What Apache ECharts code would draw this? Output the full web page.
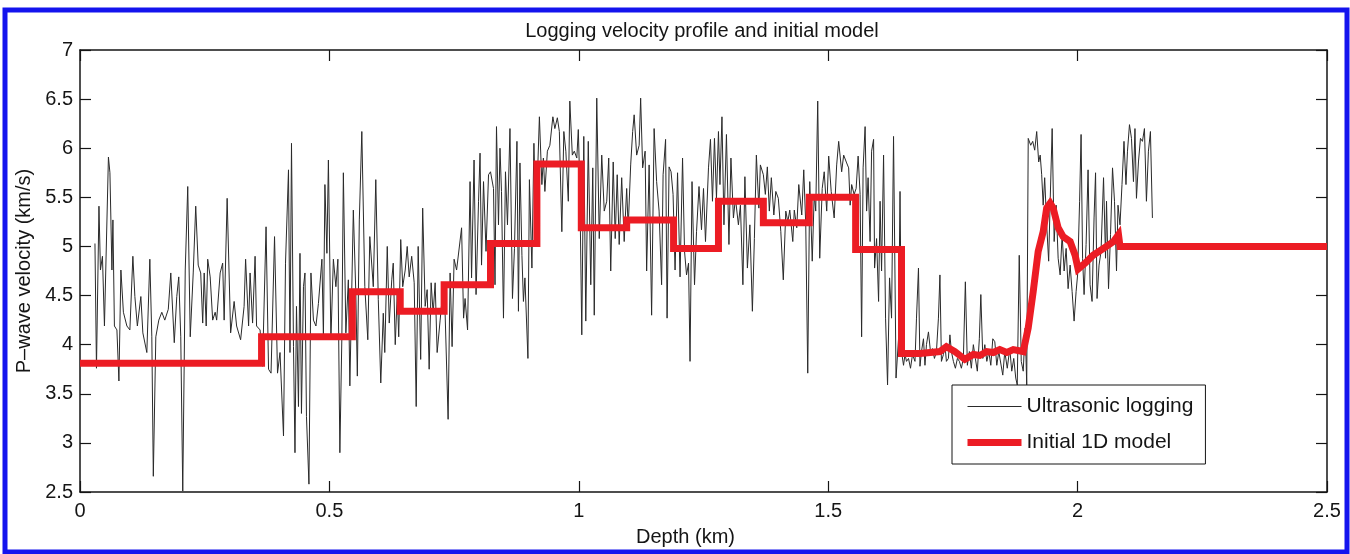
<!DOCTYPE html>
<html>
<head>
<meta charset="utf-8">
<script src="https://cdn.jsdelivr.net/npm/echarts@6/dist/echarts.min.js"></script>
<style>
  html, body { margin: 0; padding: 0; background: #fff; }
  #chart { width: 1350px; height: 554px; }
</style>
</head>
<body>
<div id="chart"></div>
<script>
// Axis ranges and tick spacing
const depthRange = [0, 2.5];
const depthStep = 0.5;
const velocityRange = [2.5, 7];
const velocityStep = 0.5;

// Ultrasonic logging samples, [depth (km), P-wave velocity (km/s)]
const logShallow = [
  [0.030,5.03],[0.033,3.76],[0.038,5.41],[0.041,4.76],[0.045,4.90],[0.049,4.19],[0.052,4.17],[0.057,5.91],
  [0.060,5.75],[0.064,4.76],[0.066,5.27],[0.069,4.19],[0.074,4.15],[0.078,3.63],[0.082,4.76],[0.087,4.33],
  [0.094,4.19],[0.100,4.15],[0.106,4.90],[0.110,4.49],[0.115,4.19],[0.122,4.49],[0.126,4.12],[0.134,3.92],
  [0.140,4.87],[0.144,4.08],[0.147,2.66],[0.152,4.08],[0.158,4.25],[0.164,4.33],[0.170,4.25],[0.177,4.36],
  [0.182,4.73],[0.189,4.02],[0.194,4.49],[0.198,4.69],[0.202,4.08],[0.206,2.51],[0.211,4.76],[0.216,5.61],
  [0.221,4.08],[0.227,4.73],[0.232,5.41],[0.237,4.81],[0.242,4.73],[0.246,4.22],[0.249,4.73],[0.253,4.19],
  [0.256,4.87],[0.261,4.69],[0.266,4.25],[0.271,4.33],[0.274,4.25],[0.281,4.73],[0.286,4.83],[0.289,4.25],
  [0.295,5.49],[0.302,4.12],[0.309,4.44],[0.314,4.19],[0.322,4.05],[0.329,4.39],[0.332,4.87],[0.338,4.19],
  [0.341,4.73],[0.346,4.22],[0.351,4.90],[0.354,4.19],[0.361,4.15],[0.366,3.78],[0.373,5.20],[0.378,3.75],
  [0.383,3.71],[0.390,5.10]
];
const logUpper = [
  [0.396,3.71],[0.401,3.92],[0.408,3.07],[0.412,4.83],[0.418,5.78],[0.421,3.92],[0.424,6.05],[0.428,3.98],
  [0.431,2.90],[0.434,4.39],[0.438,3.37],[0.441,4.93],[0.444,3.30],[0.448,4.59],[0.451,4.73],[0.454,3.27],
  [0.459,2.58],[0.463,4.73],[0.468,4.25],[0.473,4.19],[0.478,4.42],[0.485,4.87],[0.488,4.08],[0.491,5.63],
  [0.495,4.93],[0.498,5.88],[0.503,4.05],[0.508,4.87],[0.513,4.59],[0.517,4.87],[0.521,2.90],[0.525,4.08],
  [0.528,5.75],[0.533,4.12],[0.538,4.66],[0.541,3.58],[0.548,5.37],[0.553,4.52],[0.556,3.68],[0.560,5.27],
  [0.565,6.17],[0.571,4.59],[0.577,4.05],[0.581,5.10],[0.588,4.59],[0.593,5.68],[0.598,4.46],[0.603,3.61],
  [0.608,4.32],[0.611,3.92],[0.616,5.00],[0.620,4.22],[0.625,4.66],[0.628,4.83],[0.632,4.00],[0.636,4.52],
  [0.639,4.08],[0.643,5.07],[0.647,4.59],[0.652,4.76],[0.656,5.00],[0.660,4.69],[0.665,4.90],[0.670,4.63],
  [0.674,3.37],[0.678,5.00],[0.683,3.85],[0.687,5.39],[0.692,4.39],[0.696,4.56],[0.700,3.75],[0.704,4.63],
  [0.708,4.32],[0.712,4.63],[0.716,3.92],[0.722,4.25],[0.727,4.52],[0.732,4.32],[0.738,3.24],[0.742,4.73],
  [0.746,3.98],[0.750,4.87],[0.755,4.76]
];
const logMiddle = [
  [0.765,5.19],[0.769,4.27],[0.772,4.47],[0.777,4.15],[0.782,5.66],[0.785,4.68],[0.790,5.88],[0.794,4.51],
  [0.799,5.46],[0.802,5.95],[0.805,4.81],[0.809,5.66],[0.814,4.95],[0.819,5.73],[0.823,5.76],[0.829,5.59],
  [0.832,4.61],[0.835,6.22],[0.839,5.22],[0.842,6.00],[0.845,5.56],[0.849,4.27],[0.853,5.76],[0.857,5.22],
  [0.862,6.20],[0.867,4.47],[0.871,4.98],[0.876,6.07],[0.879,4.34],[0.882,5.85],[0.886,4.91],[0.889,4.44],
  [0.892,4.68],[0.898,3.86],[0.901,5.68],[0.906,4.78],[0.910,6.05],[0.914,5.22],[0.921,6.32],[0.926,5.63],
  [0.929,5.90],[0.932,5.56],[0.937,5.97],[0.942,6.03],[0.948,6.32],[0.952,6.20],[0.957,6.31],[0.961,6.17],
  [0.966,5.15],[0.970,6.17],[0.974,5.97],[0.979,5.46],[0.982,6.48],[0.987,5.93],[0.991,5.97],[0.996,5.90],
  [0.999,6.19],[1.002,5.63],[1.006,4.10],[1.010,6.12],[1.014,4.24],[1.019,6.07],[1.024,4.61],[1.028,5.80],
  [1.031,4.30],[1.036,6.51],[1.041,5.08],[1.046,5.93],[1.051,5.36],[1.056,5.46],[1.060,5.90],[1.064,4.75],
  [1.069,5.86],[1.073,5.08],[1.077,5.73],[1.081,5.02],[1.086,5.70],[1.091,5.05],[1.096,5.59],[1.099,5.19],
  [1.104,5.83],[1.108,6.17],[1.111,6.34],[1.116,5.93],[1.121,6.03],[1.124,6.51],[1.128,5.80],[1.133,5.97],
  [1.136,4.75],[1.141,5.83],[1.146,4.30],[1.151,6.20],[1.156,5.66],[1.161,5.36]
];
const logLower = [
  [1.166,4.61],[1.169,5.73],[1.174,6.09],[1.177,4.27],[1.181,5.81],[1.185,5.76],[1.189,5.53],[1.193,4.76],
  [1.198,5.75],[1.203,4.69],[1.208,5.90],[1.212,4.95],[1.216,4.71],[1.220,4.83],[1.223,3.83],[1.227,5.66],
  [1.232,4.61],[1.236,5.15],[1.241,5.61],[1.246,5.17],[1.250,5.59],[1.254,5.05],[1.260,5.80],[1.264,6.09],
  [1.268,5.46],[1.272,6.10],[1.276,5.49],[1.280,6.17],[1.283,5.63],[1.287,6.32],[1.291,5.22],[1.296,6.14],
  [1.301,5.02],[1.305,5.90],[1.310,5.29],[1.314,5.49],[1.320,5.22],[1.324,5.42],[1.329,4.61],[1.333,5.71],
  [1.338,4.78],[1.343,5.22],[1.348,4.34],[1.352,5.08],[1.356,5.93],[1.361,5.39],[1.364,5.83],[1.370,5.73],
  [1.374,5.53],[1.378,5.81],[1.382,5.36],[1.386,5.70],[1.391,5.32],[1.395,5.56],[1.400,5.49],[1.405,5.15],
  [1.410,4.66],[1.415,5.36],[1.419,5.25],[1.423,5.37],[1.429,5.05],[1.432,5.37],[1.437,5.19],[1.441,5.63],
  [1.447,5.32],[1.451,5.78],[1.455,5.22],[1.459,3.71],[1.463,5.66],[1.468,4.85],[1.472,5.53],[1.475,5.36],
  [1.479,6.48],[1.483,4.88],[1.488,5.59],[1.492,5.76],[1.497,5.36],[1.501,5.92],[1.506,5.56],[1.512,5.29],
  [1.517,5.83],[1.521,6.07],[1.527,5.76],[1.531,5.93],[1.537,5.85],[1.541,5.80]
];
const logLowVelocityZone = [
  [1.544,5.42],[1.547,5.63],[1.552,5.53],[1.556,5.59],[1.560,5.92],[1.564,5.53],[1.567,4.08],[1.570,5.80],
  [1.574,6.22],[1.577,5.36],[1.580,5.70],[1.584,5.05],[1.587,5.97],[1.591,6.09],[1.593,4.78],[1.597,5.08],
  [1.601,4.44],[1.604,5.46],[1.607,4.75],[1.611,5.93],[1.615,4.27],[1.619,3.59],[1.623,4.68],[1.627,4.27],
  [1.631,6.12],[1.636,3.66],[1.641,4.06],[1.644,5.56],[1.647,3.93],[1.651,3.79],[1.654,3.90],[1.657,3.83],
  [1.661,3.86],[1.665,3.76],[1.669,3.90],[1.674,3.83],[1.677,4.27],[1.681,4.78],[1.684,3.78],[1.687,3.93],
  [1.691,4.06],[1.694,3.79],[1.697,4.00],[1.701,4.13],[1.705,3.93],[1.709,3.96],[1.713,3.86],[1.717,3.93],
  [1.721,4.27],[1.724,4.71],[1.727,3.83],[1.731,3.90],[1.734,4.00],[1.737,3.83],[1.741,3.86],[1.744,4.10],
  [1.747,3.93],[1.751,3.83],[1.755,3.76],[1.759,3.86],[1.763,3.83],[1.767,3.76],[1.771,3.86],[1.775,4.64],
  [1.779,3.79],[1.783,3.93],[1.787,3.76],[1.791,4.00],[1.795,3.86],[1.799,3.73],[1.803,4.06],[1.806,4.51],
  [1.810,3.86],[1.814,4.00],[1.818,3.83],[1.822,3.93],[1.826,3.79],[1.830,4.06],[1.834,4.03],[1.838,3.79],
  [1.842,3.93]
];
const logBottom = [
  [1.850,3.69],[1.854,3.93],[1.859,3.76],[1.864,3.96],[1.868,3.73],[1.872,3.86],[1.876,3.66],[1.879,3.59],
  [1.883,4.91],[1.887,3.83],[1.891,3.73],[1.895,4.17],[1.898,3.59],[1.901,6.10],[1.906,6.03],[1.910,6.07],
  [1.914,5.98],[1.918,6.17],[1.922,5.86],[1.925,5.93],[1.928,5.73],[1.931,5.42],[1.934,5.70],[1.938,5.22],
  [1.942,4.85],[1.945,5.46],[1.949,6.20],[1.953,5.05],[1.957,5.42],[1.961,4.88],[1.965,4.71],[1.969,5.12],
  [1.973,4.75],[1.977,4.98],[1.981,4.57],[1.985,4.81],[1.989,4.54],[1.993,4.24],[1.997,4.54],[2.000,4.71],
  [2.004,5.46],[2.007,6.14],[2.010,4.88],[2.013,4.51],[2.017,5.02],[2.021,5.78],[2.025,4.61],[2.029,4.44],
  [2.033,5.29],[2.036,5.75],[2.039,4.47],[2.043,4.81],[2.047,4.95],[2.052,5.70],[2.056,4.88],[2.058,5.46],
  [2.062,4.57],[2.066,5.12],[2.070,5.80],[2.074,5.46],[2.078,4.75],[2.081,5.42],[2.085,5.22],[2.089,5.63],
  [2.093,6.07],[2.097,5.63],[2.100,5.97],[2.104,6.24],[2.108,6.10],[2.112,5.66],[2.115,6.20],[2.118,5.49],
  [2.122,5.86],[2.126,6.10],[2.130,6.07],[2.134,6.20],[2.138,5.46],[2.142,5.97],[2.146,6.17],[2.150,5.29]
];

// Initial 1D model: blocky layers, then a smoothed transition below 1.65 km
const modelLayers = [
  [0,3.81],[0.364,3.81],[0.364,4.08],[0.546,4.08],[0.546,4.54],[0.642,4.54],[0.642,4.34],[0.730,4.34],
  [0.730,4.61],[0.823,4.61],[0.823,5.03],[0.916,5.03],[0.916,5.84],[1.005,5.84],[1.005,5.19],[1.096,5.19],
  [1.096,5.27],[1.190,5.27],[1.190,4.98],[1.280,4.98],[1.280,5.46],[1.370,5.46],[1.370,5.24],[1.462,5.24],
  [1.462,5.50],[1.555,5.50],[1.555,4.97],[1.647,4.97],[1.647,3.91]
];
const modelTransition = [
  [1.684,3.91],[1.724,3.93],[1.737,3.98],[1.754,3.93],[1.774,3.85],[1.791,3.90],[1.804,3.89],[1.818,3.93],
  [1.831,3.92],[1.844,3.95],[1.858,3.92],[1.871,3.95],[1.891,3.93],[1.901,4.17],[1.911,4.54],[1.921,4.95],
  [1.931,5.15],[1.938,5.39],[1.945,5.44],[1.951,5.39],[1.961,5.19],[1.971,5.10],[1.985,5.05],[1.995,4.91],
  [2.001,4.77],[2.015,4.83],[2.031,4.91],[2.052,4.98],[2.072,5.05],[2.082,5.12],[2.085,5.00],[2.5,5.00]
];

const logSamples = [].concat(logShallow, logUpper, logMiddle, logLower, logLowVelocityZone, logBottom);
const initialModel = [].concat(modelLayers, modelTransition);

const FONT = '"Liberation Sans", Arial, Helvetica, sans-serif';
const INK = '#151515';

function frameAxis(extra) {
  return Object.assign({
    type: 'value',
    axisLine: { show: true, onZero: false, lineStyle: { color: INK, width: 1.5 } },
    axisTick: { show: true, inside: true, length: 11, lineStyle: { color: INK, width: 1.2 } },
    splitLine: { show: false },
    axisLabel: { show: false }
  }, extra);
}

const chart = echarts.init(document.getElementById('chart'), null, { renderer: 'canvas' });

chart.setOption({
  animation: false,
  backgroundColor: '#ffffff',
  title: {
    text: 'Logging velocity profile and initial model',
    left: 697,
    top: 16,
    textAlign: 'center',
    textStyle: { fontFamily: FONT, fontSize: 20, fontWeight: 'normal', color: INK }
  },
  grid: { left: 80, right: 23, top: 50, bottom: 62, containLabel: false },
  xAxis: [
    frameAxis({
      min: depthRange[0], max: depthRange[1], interval: depthStep, position: 'bottom',
      axisLabel: { show: true, margin: 9, fontFamily: FONT, fontSize: 20, color: INK },
      name: 'Depth (km)', nameLocation: 'middle', nameGap: 35,
      nameTextStyle: { fontFamily: FONT, fontSize: 20, color: INK, padding: [0, 36, 0, 0] }
    }),
    frameAxis({ min: depthRange[0], max: depthRange[1], interval: depthStep, position: 'top' })
  ],
  yAxis: [
    frameAxis({
      min: velocityRange[0], max: velocityRange[1], interval: velocityStep, position: 'left',
      axisLabel: { show: true, margin: 7, fontFamily: FONT, fontSize: 20, color: INK },
      name: 'P\u2013wave velocity (km/s)', nameLocation: 'middle', nameGap: 46, nameRotate: 90,
      nameTextStyle: { fontFamily: FONT, fontSize: 20, color: INK }
    }),
    frameAxis({ min: velocityRange[0], max: velocityRange[1], interval: velocityStep, position: 'right' })
  ],
  legend: {
    orient: 'vertical',
    left: 952,
    top: 385,
    padding: [11, 12, 11, 12],
    itemGap: 15,
    itemWidth: 54,
    itemHeight: 14,
    backgroundColor: '#ffffff',
    borderColor: INK,
    borderWidth: 1,
    borderRadius: 0,
    selectedMode: false,
    itemStyle: { opacity: 0 },
    lineStyle: { width: 'inherit' },
    textStyle: { fontFamily: FONT, fontSize: 21, color: INK },
    data: ['Ultrasonic logging', 'Initial 1D model']
  },
  series: [
    {
      name: 'Ultrasonic logging',
      type: 'line',
      data: logSamples,
      symbol: 'none',
      showSymbol: false,
      lineStyle: { color: '#2a2a2a', width: 1 },
      itemStyle: { color: '#2a2a2a' },
      z: 2
    },
    {
      name: 'Initial 1D model',
      type: 'line',
      data: initialModel,
      symbol: 'none',
      showSymbol: false,
      lineStyle: { color: '#ec1c24', width: 7, join: 'miter' },
      itemStyle: { color: '#ec1c24' },
      z: 3
    }
  ],
  graphic: [
    {
      type: 'rect',
      silent: true,
      z: 100,
      shape: { x: 5, y: 10, width: 1342, height: 542 },
      style: { fill: 'none', stroke: '#1414ee', lineWidth: 5 }
    }
  ]
});
</script>
</body>
</html>
